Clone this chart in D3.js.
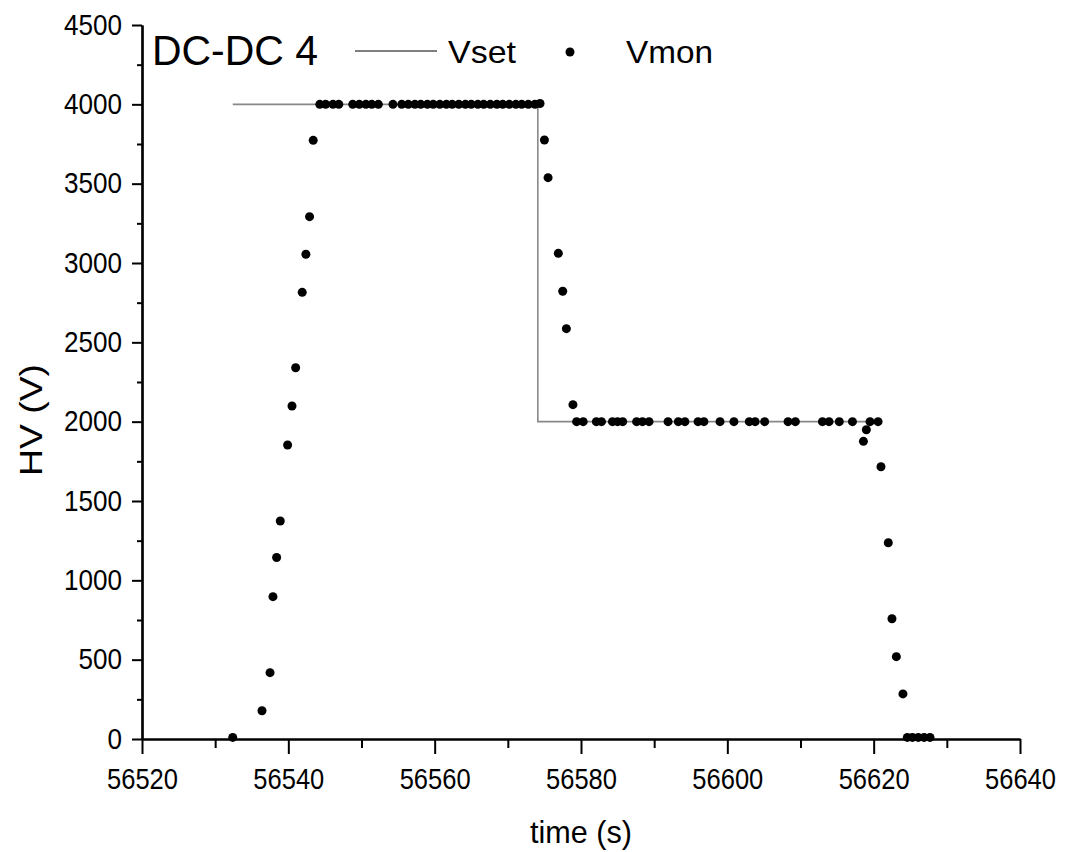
<!DOCTYPE html>
<html>
<head>
<meta charset="utf-8">
<script src="https://cdn.jsdelivr.net/npm/d3@7"></script>
<style>
  html, body { margin: 0; padding: 0; background: #fff; }
  svg { display: block; }
  text { font-family: "Liberation Sans", Arial, sans-serif; fill: #000; }
</style>
</head>
<body>
<svg id="chart" width="1065" height="852"></svg>
<script>
// ---- data ----
const xTicks = [56520, 56540, 56560, 56580, 56600, 56620, 56640];
const xMinorTicks = [56530, 56550, 56570, 56590, 56610, 56630];
const yTicks = [0, 500, 1000, 1500, 2000, 2500, 3000, 3500, 4000, 4500];
const yMinorTicks = [250, 750, 1250, 1750, 2250, 2750, 3250, 3750, 4250];

const vsetTime  = [56532.4, 56574.1, 56574.1, 56620.9];
const vsetValue = [4000, 4000, 2000, 2000];

const vmonTime = [
  56532.4, 56536.4, 56537.5, 56537.9, 56538.4, 56538.9, 56539.9, 56540.5, 56541.0,
  56541.9, 56542.4, 56542.9, 56543.4,
  56544.3, 56545.1, 56546.1, 56546.9,
  56548.8, 56549.7, 56550.6, 56551.4, 56552.3,
  56554.3,
  56555.5, 56556.4, 56557.3, 56558.1, 56559.0, 56559.8, 56560.7, 56561.6, 56562.4, 56563.3, 56564.2,
  56565.0, 56565.9, 56566.7, 56567.6, 56568.5, 56569.3, 56570.2, 56571.1, 56571.9, 56572.8, 56573.7,
  56574.4,
  56575.0, 56575.5, 56576.9, 56577.5, 56578.0, 56578.9,
  56579.4, 56580.3, 56582.1, 56582.8, 56584.3, 56585.0, 56585.7, 56587.6, 56588.4, 56589.3,
  56591.9, 56593.3, 56594.2, 56596.0, 56596.8, 56599.0, 56600.9, 56603.0, 56603.8, 56605.1,
  56608.3, 56609.3, 56613.0, 56613.9, 56615.3, 56617.1, 56618.6, 56619.0, 56619.5, 56620.6,
  56621.0, 56622.0, 56622.5, 56623.1, 56624.0,
  56624.6, 56625.3, 56626.1, 56626.9, 56627.7
];
const vmonValue = [
  10, 178, 418, 897, 1144, 1374, 1853, 2099, 2340,
  2815, 3055, 3292, 3773,
  4000, 4000, 4000, 4000,
  4000, 4000, 4000, 4000, 4000,
  4000,
  4000, 4000, 4000, 4000, 4000, 4000, 4000, 4000, 4000, 4000, 4000,
  4000, 4000, 4000, 4000, 4000, 4000, 4000, 4000, 4000, 4000, 4000,
  4005,
  3775, 3538, 3061, 2822, 2586, 2107,
  2000, 2000, 2000, 2000, 2000, 2000, 2000, 2000, 2000, 2000,
  2000, 2000, 2000, 2000, 2000, 2000, 2000, 2000, 2000, 2000,
  2000, 2000, 2000, 2000, 2000, 2000, 1876, 1949, 2000, 2000,
  1716, 1237, 758, 519, 284,
  10, 10, 10, 10, 10
];

// ---- chart ----
const svg = d3.select("#chart");
const x = d3.scaleLinear().domain([56520, 56640]).range([142, 1020]);
const y = d3.scaleLinear().domain([0, 4500]).range([739, 25]);

// Vset line
const vset = vsetTime.map((t, i) => [t, vsetValue[i]]);
svg.append("path")
  .datum(vset)
  .attr("fill", "none")
  .attr("stroke", "#888")
  .attr("stroke-width", 1.6)
  .attr("d", d3.line().x(d => x(d[0])).y(d => y(d[1])));

// Vmon dots
const vmon = vmonTime.map((t, i) => [t, vmonValue[i]]);
svg.append("g").selectAll("circle")
  .data(vmon).join("circle")
  .attr("cx", d => x(d[0]))
  .attr("cy", d => y(d[1]))
  .attr("r", 4.5)
  .attr("fill", "#000");

// axes
svg.append("g").attr("transform", `translate(0,${y(0)})`)
  .call(d3.axisBottom(x).tickValues(xTicks).tickFormat(d3.format("d"))
    .tickSize(15).tickSizeOuter(0).tickPadding(14))
  .selectAll(".tick text")
  .attr("textLength", d => String(d).length * 14.2)
  .attr("lengthAdjust", "spacingAndGlyphs");
svg.append("g").attr("transform", `translate(0,${y(0)})`)
  .call(d3.axisBottom(x).tickValues(xMinorTicks).tickFormat("").tickSize(9).tickSizeOuter(0));

svg.append("g").attr("transform", `translate(${x(56520)},0)`)
  .call(d3.axisLeft(y).tickValues(yTicks).tickFormat(d3.format("d"))
    .tickSize(10).tickSizeOuter(0).tickPadding(10))
  .selectAll(".tick text")
  .attr("textLength", d => String(d).length * 14.5)
  .attr("lengthAdjust", "spacingAndGlyphs");
svg.append("g").attr("transform", `translate(${x(56520)},0)`)
  .call(d3.axisLeft(y).tickValues(yMinorTicks).tickFormat("").tickSize(5).tickSizeOuter(0));

svg.selectAll(".domain").attr("stroke", "#000").attr("stroke-width", 2.2);
svg.selectAll(".tick line").attr("stroke", "#000").attr("stroke-width", 2);
svg.selectAll(".tick text")
  .style("font-family", '"Liberation Sans", Arial, sans-serif')
  .style("font-size", "29px");

// axis titles
svg.append("text")
  .attr("x", 581).attr("y", 843)
  .attr("text-anchor", "middle")
  .attr("textLength", 102).attr("lengthAdjust", "spacingAndGlyphs")
  .style("font-size", "32px")
  .text("time (s)");
svg.append("text")
  .attr("transform", "translate(42,420) rotate(-90)")
  .attr("text-anchor", "middle")
  .attr("textLength", 112).attr("lengthAdjust", "spacingAndGlyphs")
  .style("font-size", "32px")
  .text("HV (V)");

// title + legend
svg.append("text")
  .attr("x", 152).attr("y", 65)
  .attr("textLength", 166).attr("lengthAdjust", "spacingAndGlyphs")
  .style("font-size", "42px")
  .text("DC-DC 4");
svg.append("line")
  .attr("x1", 355).attr("x2", 437).attr("y1", 51).attr("y2", 51)
  .attr("stroke", "#555").attr("stroke-width", 1.3);
svg.append("text")
  .attr("x", 448).attr("y", 63)
  .attr("textLength", 68).attr("lengthAdjust", "spacingAndGlyphs")
  .style("font-size", "32px")
  .text("Vset");
svg.append("circle")
  .attr("cx", 570).attr("cy", 52).attr("r", 4.5).attr("fill", "#000");
svg.append("text")
  .attr("x", 626).attr("y", 63)
  .attr("textLength", 87).attr("lengthAdjust", "spacingAndGlyphs")
  .style("font-size", "32px")
  .text("Vmon");
</script>
</body>
</html>
